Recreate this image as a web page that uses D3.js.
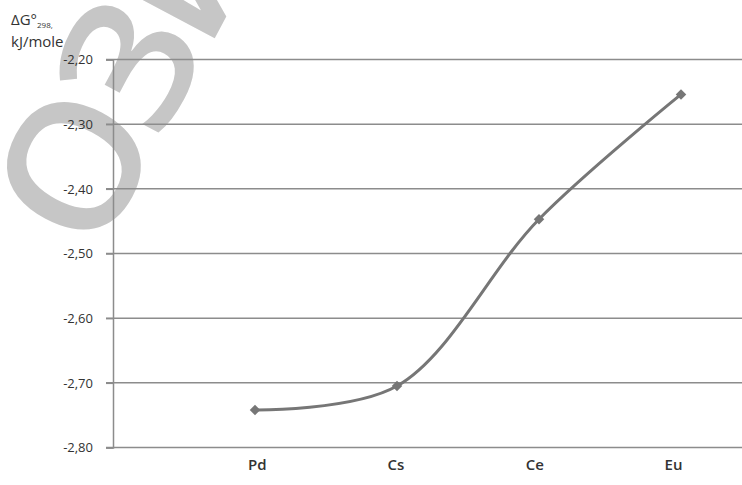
<!DOCTYPE html>
<html>
<head>
<meta charset="utf-8">
<script src="https://cdn.jsdelivr.net/npm/d3@7"></script>
<style>
  body { margin: 0; background: #fff; }
  svg { display: block; }
</style>
</head>
<body>
<svg id="chart"></svg>
<script>
// Data
const elements = ['Pd', 'Cs', 'Ce', 'Eu'];
const deltaG = [-2.742, -2.705, -2.447, -2.254];
const yTicks = [-2.20, -2.30, -2.40, -2.50, -2.60, -2.70, -2.80];

const width = 742;
const height = 485;

const svg = d3.select('#chart')
  .attr('width', width)
  .attr('height', height);

svg.append('rect')
  .attr('width', width)
  .attr('height', height)
  .attr('fill', '#fff');

// watermark behind the chart, turned around the centre of the first letter
svg.append('text')
  .attr('transform', 'translate(56, 164) rotate(-62) translate(-64, 81)')
  .style('font-family', 'Open Sans')
  .style('font-weight', '600')
  .style('font-size', '180px')
  .style('letter-spacing', '-10px')
  .attr('fill', '#c6c6c6')
  .text('ОЗИ');

// first slot left empty, points sit on tick marks
const x = d3.scalePoint().domain(['', ...elements]).range([113, 681]);
const xLabel = d3.scalePoint().domain(['', ...elements]).range([118, 673]);
const y = d3.scaleLinear().domain([-2.80, -2.20]).range([447.5, 59.5]);

// gridlines
svg.append('g')
  .selectAll('line')
  .data(yTicks)
  .enter()
  .append('line')
  .attr('x1', 106)
  .attr('x2', width)
  .attr('y1', d => y(d))
  .attr('y2', d => y(d))
  .attr('stroke', '#8c8c8c')
  .attr('stroke-width', 1.5);

// y axis
const yAxis = svg.append('g')
  .attr('transform', 'translate(113, 0)')
  .call(d3.axisLeft(y).tickValues(yTicks).tickSize(7).tickPadding(13)
    .tickFormat(d => d3.format('.2f')(d).replace('.', ',').replace('−', '-')));
yAxis.select('.domain').attr('stroke', '#8c8c8c').attr('stroke-width', 1.5);
yAxis.selectAll('line').attr('stroke', '#8c8c8c').attr('stroke-width', 1.5);
yAxis.selectAll('text')
  .style('font-family', 'Open Sans')
  .style('font-size', '13px')
  .attr('fill', '#333');

// x axis labels
const xAxis = svg.append('g')
  .attr('transform', 'translate(0, 447.5)')
  .call(d3.axisBottom(xLabel).tickValues(elements).tickSize(0).tickPadding(12));
xAxis.select('.domain').remove();
xAxis.selectAll('text')
  .style('font-family', 'Open Sans')
  .style('font-size', '15px')
  .style('font-weight', '600')
  .attr('fill', '#333');

// axis title
const title = svg.append('text')
  .style('font-family', 'Open Sans')
  .style('font-size', '15px')
  .attr('fill', '#333');
title.append('tspan').attr('x', 11).attr('y', 25).text('ΔG°');
title.append('tspan').attr('dy', 3).style('font-size', '8px').text('298,');
title.append('tspan').attr('x', 11).attr('y', 47).style('font-size', '15px').text('kJ/mole');

// smoothed line
svg.append('path')
  .datum(deltaG)
  .attr('fill', 'none')
  .attr('stroke', '#767676')
  .attr('stroke-width', 3)
  .attr('d', d3.line()
    .x((d, i) => x(elements[i]))
    .y(d => y(d))
    .curve(d3.curveCatmullRom.alpha(0.5)));

svg.append('g')
  .selectAll('path')
  .data(deltaG)
  .enter()
  .append('path')
  .attr('transform', (d, i) => `translate(${x(elements[i])}, ${y(d)})`)
  .attr('d', d3.symbol().type(d3.symbolDiamond2).size(70))
  .attr('fill', '#767676');
</script>
</body>
</html>
